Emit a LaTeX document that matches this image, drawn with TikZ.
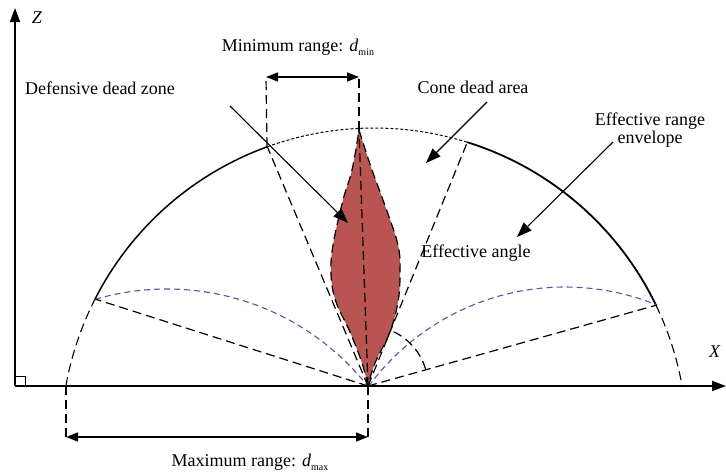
\documentclass[tikz,border=0pt]{standalone}
\usepackage{fontspec}
\setmainfont{Liberation Serif}
\usetikzlibrary{arrows.meta}
\definecolor{lensred}{RGB}{184,84,82}
\definecolor{purp}{RGB}{112,72,160}
\newcommand{\subtxt}[1]{\raisebox{-0.45ex}{\fontsize{10}{10}\selectfont #1}}
\begin{document}
\begin{tikzpicture}[x=1pt,y=-1pt,
  font=\fontsize{18}{21}\selectfont,
  axisline/.style={line width=2pt},
  dline/.style={dash pattern=on 9pt off 5pt, line width=1.2pt},
  fineline/.style={dash pattern=on 3pt off 2pt, line width=1pt},
  purpline/.style={purp, dash pattern=on 6pt off 4pt, line width=1.1pt},
  solidarc/.style={line width=1.5pt},
  callout/.style={line width=1.1pt, -{Triangle[length=15pt,width=11pt]}},
  dimarrow/.style={line width=1.4pt, {Triangle[length=12pt,width=9pt]}-{Triangle[length=12pt,width=9pt]}},
  lbl/.style={inner sep=0pt, align=center}
]
\useasboundingbox (0,0) rectangle (726,474);

% key points
\coordinate (O) at (368,386);
\coordinate (P1) at (95,299);
\coordinate (P2) at (267,146);
\coordinate (P3) at (467,143);
\coordinate (P4) at (657,305);
\coordinate (T) at (359,130);
\coordinate (L) at (66,386);
\coordinate (A0) at (15,386);
\coordinate (ZT) at (15,8);
\coordinate (XT) at (726,386);
\coordinate (mL) at (266,77);
\coordinate (mR) at (359,77);
\coordinate (ML) at (66,437);
\coordinate (MR) at (368,437);

% lens (defensive dead zone)
\filldraw[fill=lensred, dline]
  plot[smooth, tension=0.6] coordinates {(368,386) (362,363) (350,332) (336,302) (331,275) (333,245) (343,200) (352,170) (359,130)}
  -- plot[smooth, tension=0.6] coordinates {(359,130) (372,170) (383,200) (398,245) (400,275) (398,302) (390,332) (375,363) (368,386)}
  -- cycle;
\draw[dline] (O) -- (T);

% envelope circle arcs
\draw[dline, line width=1.1pt] plot[domain=169.88:153, samples=30] ({374+313*cos(\x)},{441-313*sin(\x)});
\draw[solidarc] plot[domain=153:109.9, samples=60] ({374+313*cos(\x)},{441-313*sin(\x)});
\draw[fineline] plot[domain=109.9:72.7, samples=60] ({374+313*cos(\x)},{441-313*sin(\x)});
\draw[solidarc, line width=1.8pt] plot[domain=72.7:25.7, samples=60] ({374+313*cos(\x)},{441-313*sin(\x)});
\draw[dline, line width=1.1pt] plot[domain=25.7:10.12, samples=30] ({374+313*cos(\x)},{441-313*sin(\x)});

% purple arcs
\draw[purpline] plot[domain=106.3:38.35, samples=60] ({167+256*cos(\x)},{545-256*sin(\x)});
\draw[purpline] plot[domain=143.65:67.85, samples=60] ({565+244*cos(\x)},{531-244*sin(\x)});

% dashed rays
\draw[dline] (O) -- (P1);
\draw[dline] (O) -- (P2);
\draw[dline] (O) -- (P3);
\draw[dline] (O) -- (P4);

% effective angle arc
\draw[dline] plot[domain=16:68, samples=30] ({368+60*cos(\x)},{386-60*sin(\x)});

% dimension extension lines
\draw[dline] (T) -- (mR);
\draw[dline] (P2) -- (mL);
\draw[dline] (L) -- (ML);
\draw[dline] (O) -- (MR);

% dimension arrows
\draw[dimarrow] (mL) -- (mR);
\draw[dimarrow] (ML) -- (MR);

% axes
\draw[axisline, -{Triangle[length=14pt,width=10pt]}] (A0) -- (ZT);
\draw[axisline, -{Triangle[length=14pt,width=10pt]}] (A0) -- (XT);
\draw[line width=1pt] (15,376) -- (25,376) -- (25,386);

% labels
\node[lbl] (zlab) at (37,18) {\textit{Z}};
\node[lbl] (xlab) at (715,352) {\textit{X}};
\node[lbl] (minlab) at (298,47) {Minimum range: \textit{d}\subtxt{min}};
\node[lbl] (maxlab) at (250,462) {Maximum range: \textit{d}\subtxt{max}};
\node[lbl] (ddz) at (100,88) {Defensive dead zone};
\node[lbl] (cda) at (473,87) {Cone dead area};
\node[lbl] (ere) at (650,130) {Effective range\\[-3pt]envelope};
\node[lbl] (ea) at (476,253) {Effective angle};

% callout arrows
\coordinate (c1s) at (230,106);
\coordinate (c1e) at (348,223);
\coordinate (c2s) at (487,102);
\coordinate (c2e) at (426,163);
\coordinate (c3s) at (613,142);
\coordinate (c3e) at (517,237);
\draw[callout] (c1s) -- (c1e);
\draw[callout] (c2s) -- (c2e);
\draw[callout] (c3s) -- (c3e);
\end{tikzpicture}
\end{document}
